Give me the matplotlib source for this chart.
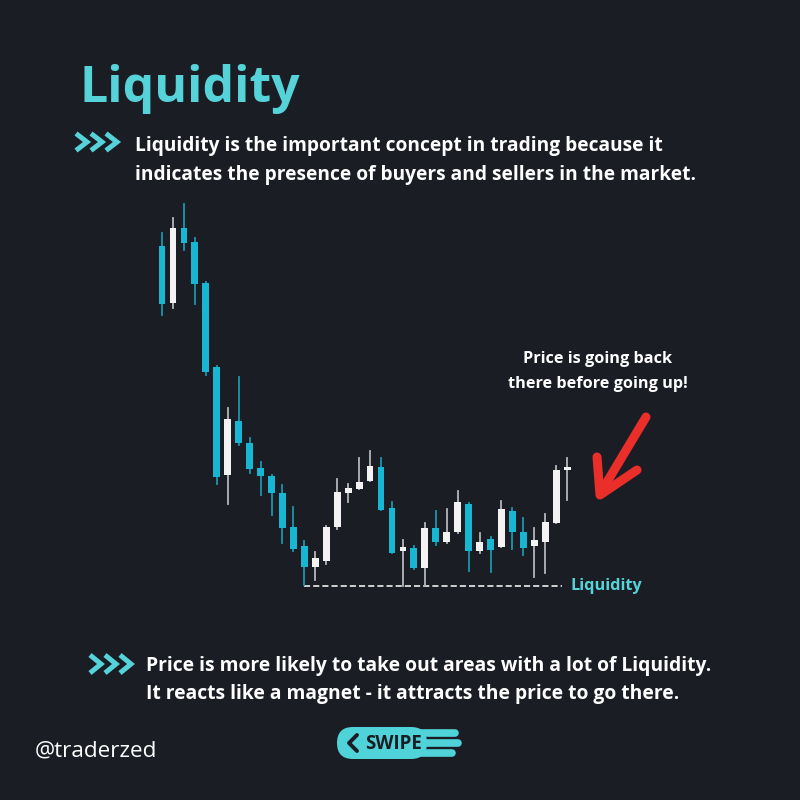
import matplotlib.pyplot as plt
from matplotlib.patches import FancyBboxPatch

# candle data (price units)
opens = [354, 297, 372, 358, 317, 233, 125, 179, 157, 132, 124, 107, 73, 54, 33, 39, 73, 107, 111, 119,
         133, 92, 49, 52, 32, 72, 58, 68, 96, 49, 61, 53, 89, 68, 54, 58, 77, 130]
highs = [367, 382, 396, 362, 318, 234, 192, 223, 162, 138, 125, 115, 93, 59, 48, 74, 121, 116, 142, 149,
         142, 98, 60, 54, 77, 89, 91, 109, 97, 67, 63, 99, 92, 82, 72, 86, 134, 142]
lows = [285, 292, 350, 296, 225, 116, 96, 155, 127, 105, 85, 57, 49, 15, 20, 36, 71, 98, 111, 119,
        90, 47, 14, 31, 14, 55, 57, 67, 29, 47, 28, 53, 51, 45, 23, 27, 77, 100]
closes = [296, 372, 357, 316, 228, 123, 181, 157, 131, 124, 107, 72, 51, 33, 42, 73, 108, 112, 118, 134,
          90, 47, 53, 32, 72, 58, 68, 98, 49, 58, 50, 91, 68, 52, 60, 78, 130, 133]
liquidity_level = 14

title = "Liquidity"
intro_lines = ["Liquidity is the important concept in trading because it",
               "indicates the presence of buyers and sellers in the market."]
note_lines = ["Price is going back", "there before going up!"]
outro_lines = ["Price is more likely to take out areas with a lot of Liquidity.",
               "It reacts like a magnet - it attracts the price to go there."]
handle = "@traderzed"

BG = '#1a1d24'
CYAN = '#17b6d3'
CYAN_WICK = '#1897ae'
WHITE = '#f3f3f3'
WHITE_WICK = '#b4b6b9'
TITLE_C = '#55d3d9'
RED = '#ea2f2b'
FONT = 'Open Sans'

fig = plt.figure(figsize=(8, 8), dpi=100, facecolor=BG)

# overlay axes in pixel coordinates for text and decorations
ov = fig.add_axes([0, 0, 1, 1])
ov.set_xlim(0, 800)
ov.set_ylim(800, 0)
ov.axis('off')
ov.set_facecolor(BG)

ov.text(79, 102, title, color=TITLE_C, fontsize=36, fontweight='bold', family=FONT, va='baseline')


def chevrons(x0, yc, h, w, step):
    for k in range(3):
        x = x0 + k * step
        ov.plot([x, x + w, x], [yc - h / 2, yc, yc + h / 2], color=TITLE_C, lw=3.6,
                solid_joinstyle='miter', solid_capstyle='butt')


chevrons(76, 142, 17, 11, 15)
for i, line in enumerate(intro_lines):
    ov.text(135, 151 + 29 * i, line, color='white', fontsize=13.8, fontweight='bold',
            family=FONT, va='baseline')

chevrons(90, 664, 18, 11, 15)
for i, line in enumerate(outro_lines):
    ov.text(146, 671 + 28 * i, line, color='white', fontsize=13.9, fontweight='bold',
            family=FONT, va='baseline')

for i, line in enumerate(note_lines):
    ov.text(598, 363 + 25 * i, line, color='white', fontsize=11.7, fontweight='bold',
            family=FONT, va='baseline', ha='center')

ov.text(35, 756, handle, color='white', fontsize=16.2, family=FONT, va='baseline')

# hand drawn red arrow
ov.plot([646, 601], [417, 492], color=RED, lw=6.5, solid_capstyle='round')
ov.plot([597, 600, 637], [457, 495, 470], color=RED, lw=6.5, solid_capstyle='round',
        solid_joinstyle='round')

# swipe button
ov.add_patch(FancyBboxPatch((337, 727), 90, 32, boxstyle='round,pad=0,rounding_size=16',
                            fc='#4fd3d8', ec='none'))
for y, x1 in [(733, 455), (743, 458), (753, 452)]:
    ov.plot([418, x1], [y, y], color='#4fd3d8', lw=5.5, solid_capstyle='round')
ov.plot([357, 349, 357], [735, 743, 751], color=BG, lw=2.8, solid_capstyle='round')
ov.text(393, 749, "SWIPE", color=BG, fontsize=13.5, fontweight='bold', family=FONT,
        ha='center', va='baseline')

# candlestick axes
ax = fig.add_axes([150 / 800, 200 / 800, 430 / 800, 405 / 800])
ax.patch.set_alpha(0)
ax.set_xlim(-1.096, 38.17)
ax.set_ylim(0, 405)
ax.axis('off')

for i, (o, h, l, c) in enumerate(zip(opens, highs, lows, closes)):
    up = c >= o
    body_c = WHITE if up else CYAN
    wick_c = WHITE_WICK if up else CYAN_WICK
    ax.plot([i, i], [l, h], color=wick_c, lw=1.3, zorder=1)
    ax.bar(i, max(abs(c - o), 2), bottom=min(o, c), width=0.62, color=body_c, zorder=2)

ax.plot([13, 36.5], [liquidity_level, liquidity_level], color='white', lw=1.1,
        dashes=(4, 2), zorder=0)
ax.text(37.3, liquidity_level, "Liquidity", color=TITLE_C, fontsize=11.7, fontweight='bold',
        family=FONT, va='center')

fig.savefig('out.png', dpi=100, facecolor=BG)
